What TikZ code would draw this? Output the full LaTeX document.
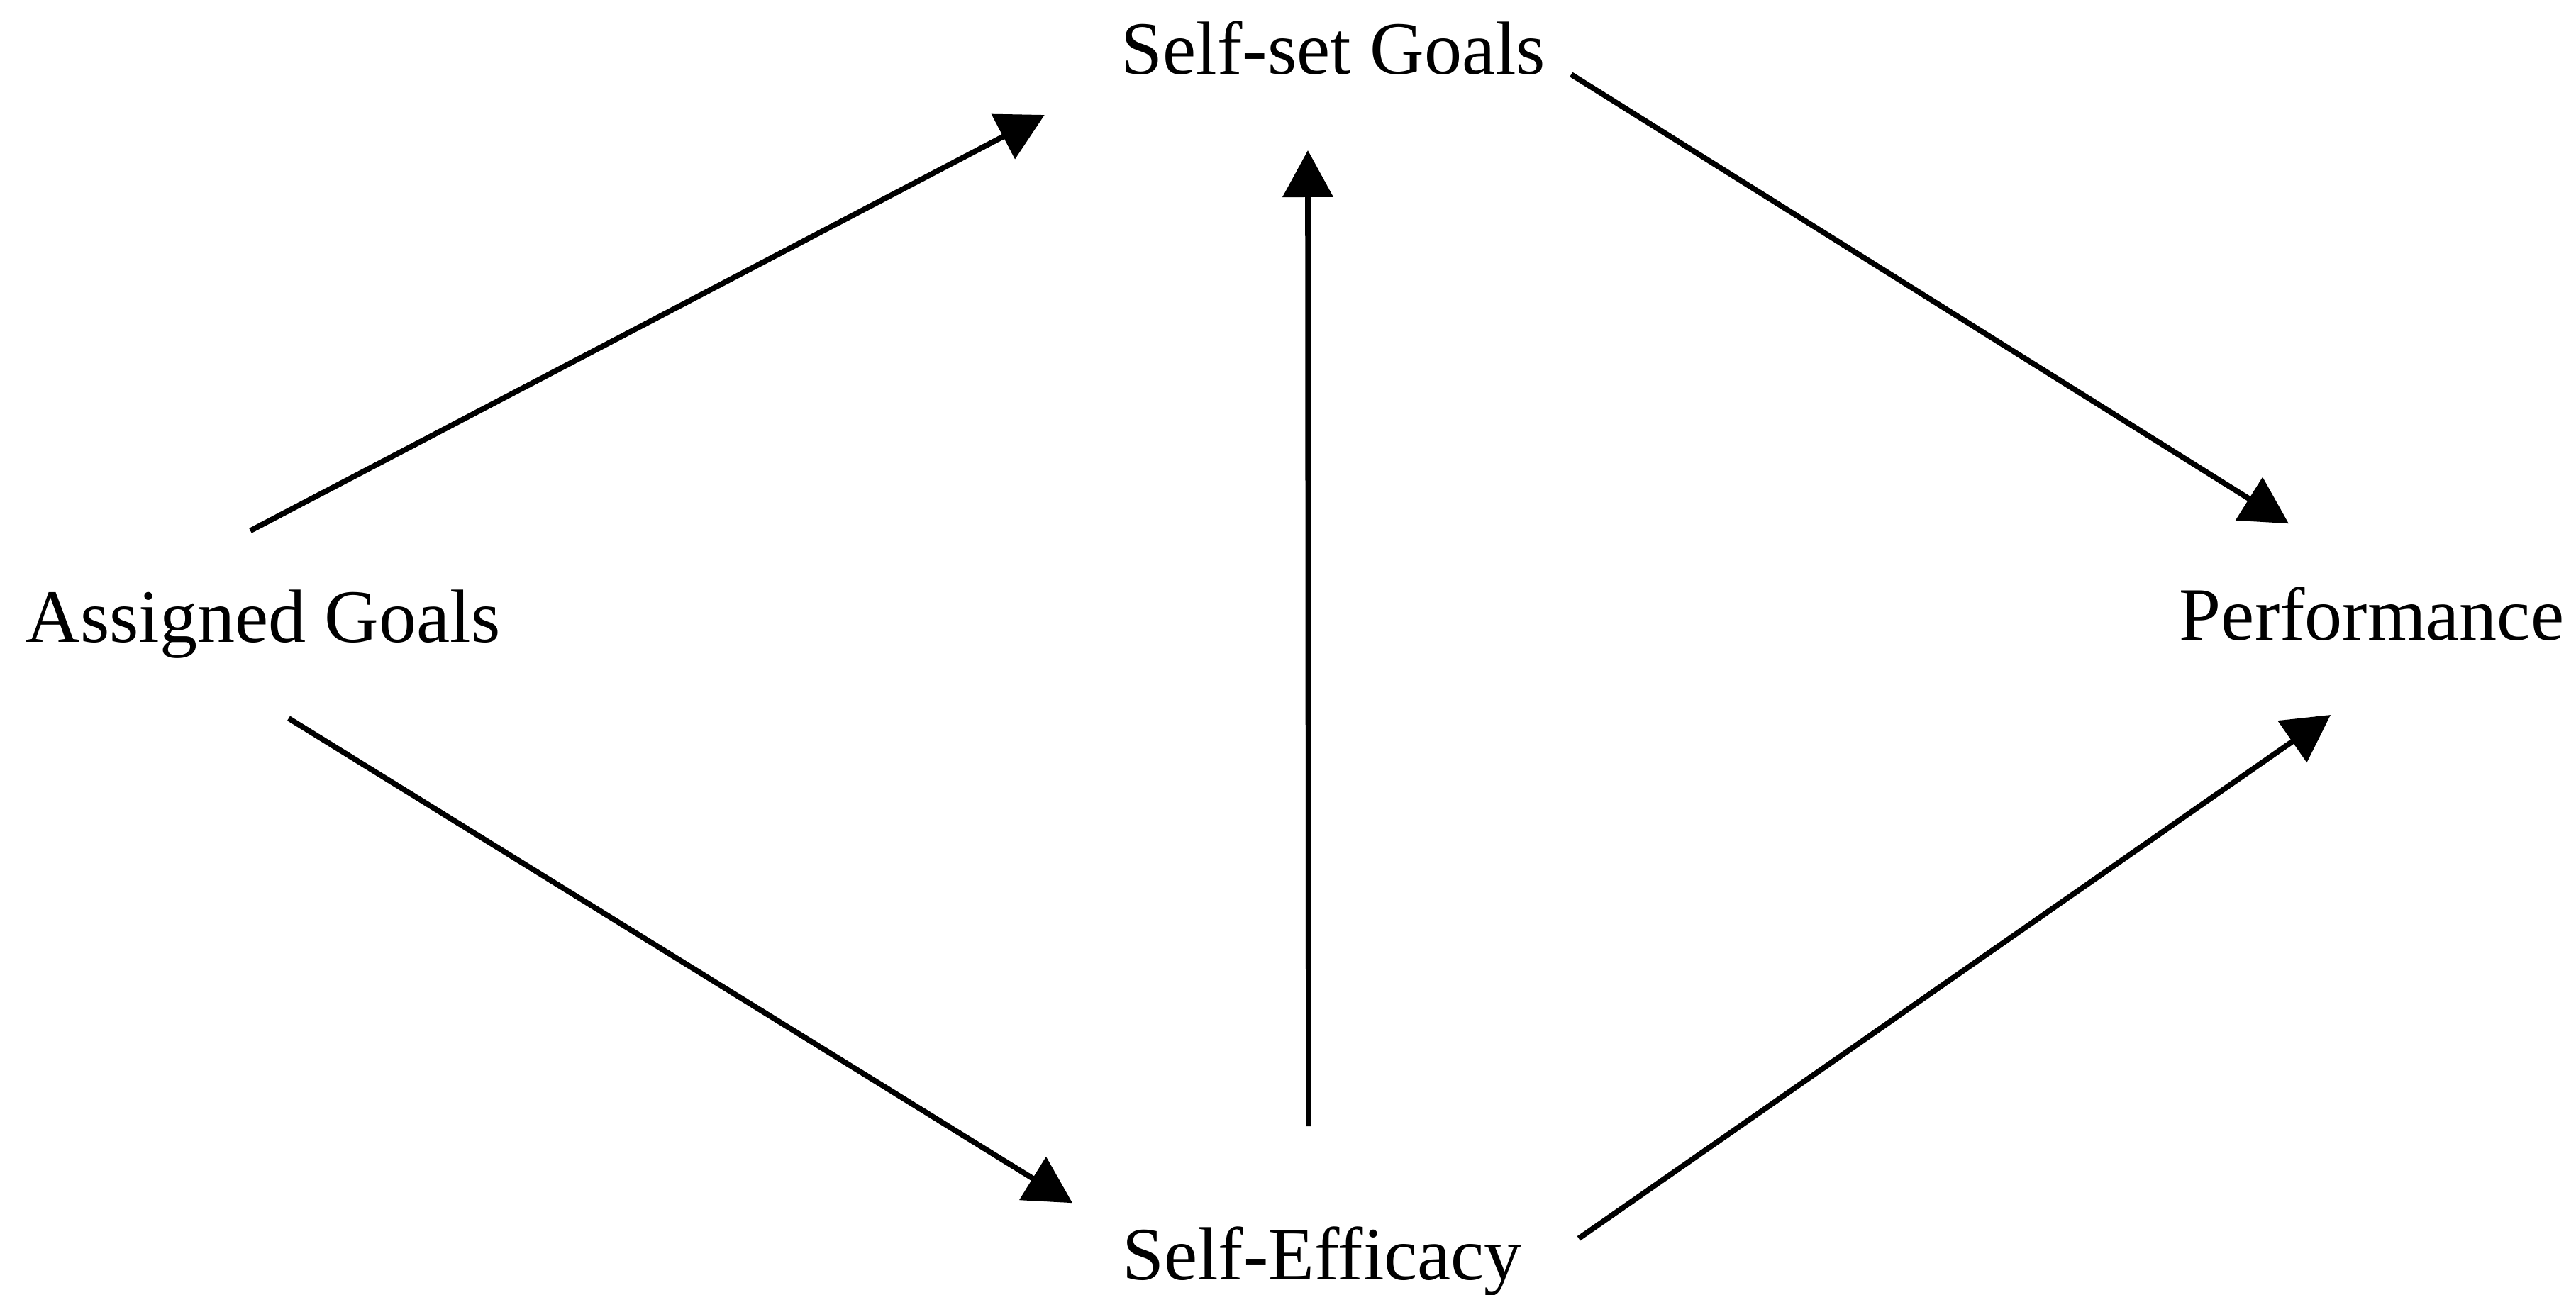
\documentclass[tikz,border=0pt]{standalone}
\usepackage{fontspec}
\setmainfont{Liberation Serif}
\usetikzlibrary{arrows.meta,calc,positioning}
\definecolor{gInk}{HTML}{000000}
\tikzset{
  goalFig/.style={
    font=\fontsize{15.1}{18}\selectfont,
    every node/.style={inner sep=0pt, outer sep=0pt},
    line cap=butt, line join=miter,
  },
  varName/.style={
    anchor=base, text=gInk, align=center,
  },
  link/.style={
    -{Triangle[length=3.3mm, width=3.5mm]}, gInk, line width=1.1pt,
  },
}

\begin{document}
\begin{tikzpicture}[goalFig, x=1cm, y=1cm]

% ============================================================
% Frame: keeps the page at the proportions of the figure.
% ============================================================
\useasboundingbox (0,0) rectangle (18.16,9.13);

% ============================================================
% The four variables of the model.
% ============================================================
\def\midX{9.40}
\def\rowY{4.60}

\node[varName] (selfset)  at (\midX, 8.605)      {Self-set Goals};
\node[varName] (assigned) at (1.855, \rowY)      {Assigned Goals};
\node[varName] (perf)     at (16.72, \rowY+0.015) {Performance};
\node[varName] (efficacy) at (\midX-0.08, 0.105) {Self-Efficacy};

% ============================================================
% Paths between them. The lines stop short of the labels, so
% each end is offset from an anchor of its node.
% ============================================================
% upper route: assigned -> self-set -> performance
\draw[link] ($(assigned.north)+(-0.09,0.42)$)
         -- ($(selfset.south west)+(-0.54,-0.28)$);
\draw[link] ($(selfset.base east)+(0.18,0)$)
         -- ($(perf.north west)+(0.77,0.45)$);

% lower route: assigned -> self-efficacy -> performance
\draw[link] ($(assigned.south)+(0.18,-0.42)$)
         -- ($(efficacy.north west)+(-0.35,0.17)$);
\draw[link] ($(efficacy.north east)+(0.40,-0.08)$)
         -- ($(perf.south)+(-0.29,-0.52)$);

% self-efficacy feeds the self-set goals
\draw[link] ($(efficacy.north)+(-0.095,0.71)$)
         -- ($(selfset.south)+(-0.18,-0.53)$);

\end{tikzpicture}
\end{document}
